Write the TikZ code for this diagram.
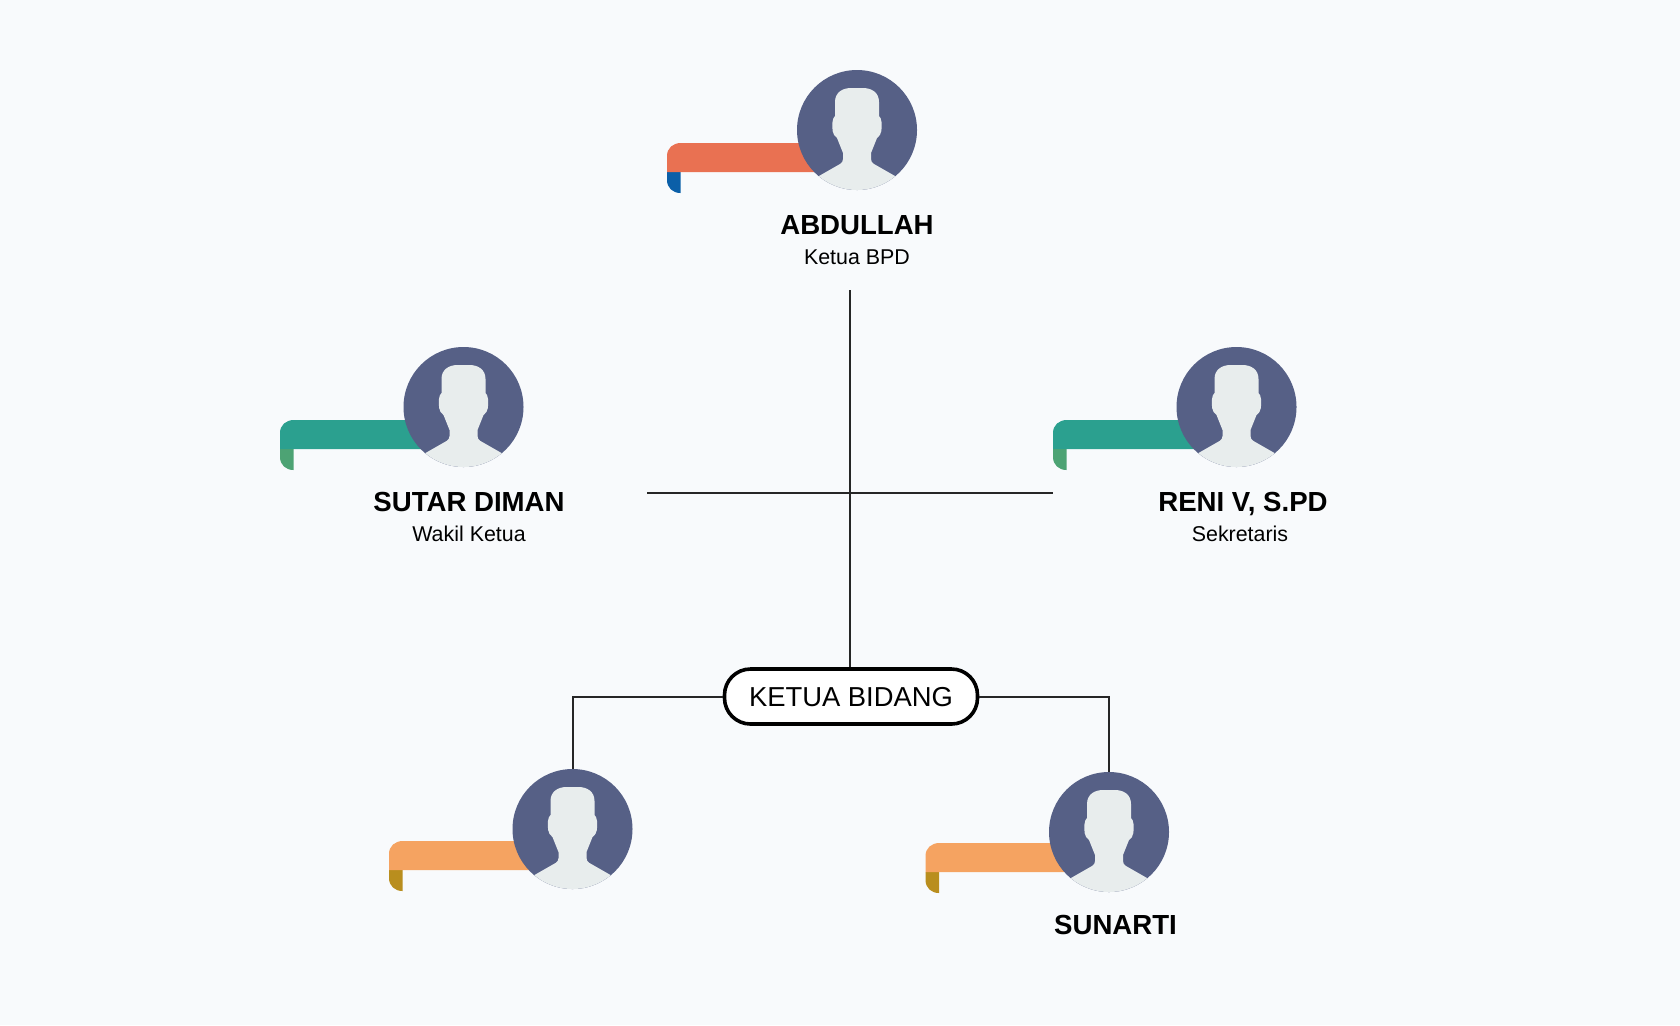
\documentclass[tikz,border=0pt]{standalone}
\usepackage{fontspec}
\setmainfont{Liberation Sans}
\usepackage{tikz}
\usetikzlibrary{positioning}

\definecolor{pagebg}{HTML}{F8FAFC}
\definecolor{facebg}{HTML}{566086}
\definecolor{facefg}{HTML}{E8EDED}
\definecolor{redband}{HTML}{E97152}
\definecolor{bluefold}{HTML}{0B5FA8}
\definecolor{tealband}{HTML}{2BA08F}
\definecolor{greenfold}{HTML}{4DA374}
\definecolor{orangeband}{HTML}{F5A361}
\definecolor{goldfold}{HTML}{B98E1E}

% name, x, y, band length, band colour, fold colour, band shift
\newcommand{\avatar}[7]{
\begin{scope}[shift={(#2,#3)}]
    \fill[#6] (-#4,#7+42) -- (-#4,#7+50) .. controls (-#4,#7+58) and (-#4+6,#7+63) .. (-#4+13.5,#7+63) -- (-#4+13.5,#7+42) -- cycle;
    \fill[#5] (0,#7+42) -- (-#4,#7+42) -- (-#4,#7+26) .. controls (-#4,#7+18) and (-#4+6,#7+13) .. (-#4+14,#7+13) -- (0,#7+13) -- cycle;
    \node[face] (#1) at (0,0) {};
    \begin{scope}
        \clip (0,0) circle[radius=60];
        \fill[facefg] (-38,46) -- (-17,34) .. controls (-15,33) and (-14,31) .. (-14,29) -- (-14,23)
            -- (-20,8)
            .. controls (-25,5) and (-25,-2) .. (-24.5,-8)
            .. controls (-24.5,-11) and (-23,-13) .. (-22,-14)
            -- (-22,-28) .. controls (-22,-38) and (-14,-42) .. (-6,-42)
            -- (6,-42) .. controls (14,-42) and (22,-38) .. (22,-28)
            -- (22,-14) .. controls (23,-13) and (24.5,-11) .. (24.5,-8)
            .. controls (25,-2) and (25,5) .. (20,8)
            -- (14,23)
            -- (14,29) .. controls (14,31) and (15,33) .. (17,34)
            -- (38,46) -- (38,70) -- (-38,70) -- cycle;
    \end{scope}
\end{scope}
}

\begin{document}
\begin{tikzpicture}[
    x=0.5pt, y=-0.5pt,
    face/.style={
        circle,
        fill=facebg,
        minimum size=60pt,
        inner sep=0pt
    },
    person/.style={font=\fontsize{13.8}{16}\selectfont\bfseries, inner sep=0pt, text height=9.8pt, text depth=0pt},
    role/.style={font=\fontsize{10.7}{12}\selectfont, inner sep=0pt, text height=7.7pt, text depth=0pt},
    bidang/.style={
        draw=black,
        fill=white,
        line width=1.8pt,
        rounded corners=13pt,
        minimum width=126.5pt,
        minimum height=27.5pt,
        inner sep=0pt,
        text height=10pt,
        text depth=0pt,
        font=\fontsize{13.7}{17}\selectfont
    },
    link/.style={line width=1pt, draw=black!85}
]

\fill[pagebg] (0,0) rectangle (1680,1025);
\useasboundingbox (0,0) rectangle (1680,1025);

% Top
\avatar{ketua}{857}{130}{190}{redband}{bluefold}{0}
\node[person] (ketuaname) at (857,225) {ABDULLAH};
\node[role] (ketuarole) at (857,257) {Ketua BPD};

% Middle
\avatar{wakil}{463.5}{407}{183.5}{tealband}{greenfold}{0}
\node[person] (wakilname) at (469,502) {SUTAR DIMAN};
\node[role] (wakilrole) at (469,533.5) {Wakil Ketua};

\avatar{sekretaris}{1236.5}{407}{183.5}{tealband}{greenfold}{0}
\node[person] (sekretarisname) at (1243,502) {RENI V, S.PD};
\node[role] (sekretarisrole) at (1240,533.5) {Sekretaris};

% Bottom
\avatar{bidangkiri}{572.5}{829}{183.5}{orangeband}{goldfold}{-1}
\avatar{bidangkanan}{1109}{832}{183.5}{orangeband}{goldfold}{-2}
\node[person] (bidangkananname) at (1115.5,925) {SUNARTI};

\node[bidang] (ketuabidang) at (851,696.5) {KETUA BIDANG};

% Lines
\coordinate (topend) at (850,290);
\coordinate (leftend) at (647,493);
\coordinate (rightend) at (1053,493);

\draw[link] (topend) -- (topend |- ketuabidang.north);
\draw[link] (leftend) -- (rightend);
\draw[link] (ketuabidang.west) -| (bidangkiri.north);
\draw[link] (ketuabidang.east) -| (bidangkanan.north);

\end{tikzpicture}
\end{document}
